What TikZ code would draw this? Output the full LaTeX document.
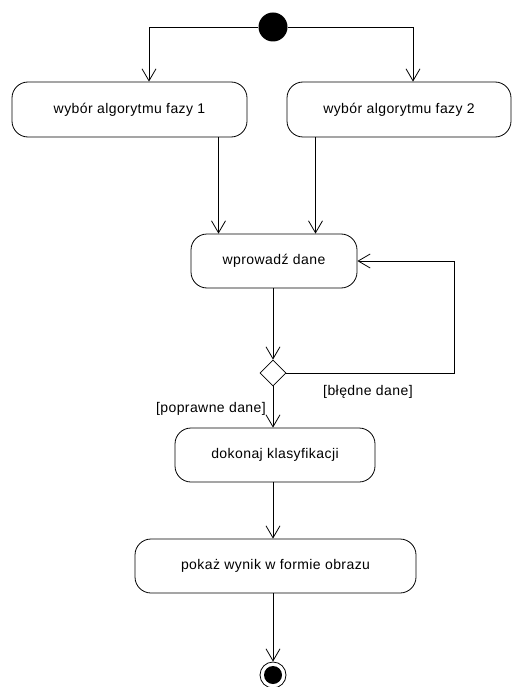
\documentclass[tikz,border=0pt]{standalone}
\usepackage{fontspec}
\setmainfont{Liberation Sans}[LetterSpace=3]
\usetikzlibrary{arrows.meta,shapes.geometric}
\begin{document}
\begin{tikzpicture}[x=1pt,y=-1pt,
  act/.style={draw,line width=0.8pt,rounded corners=16pt,minimum height=55pt,inner sep=0pt,font=\fontsize{14}{16}\selectfont},
  arr/.style={draw,line width=0.8pt,-{Straight Barb[length=12pt,width=14pt,line width=0.8pt]}},
  lbl/.style={font=\fontsize{14}{16}\selectfont,inner sep=0pt}]
\useasboundingbox[fill=white] (0,0) rectangle (513,687);
\node[circle,fill=black,minimum size=29pt,inner sep=0pt] (start) at (273,27) {};
\node[act,minimum width=235pt] (b1) at (129.5,109.5) {wybór algorytmu fazy 1};
\node[act,minimum width=224pt] (b2) at (399,109.5) {wybór algorytmu fazy 2};
\node[act,minimum width=166pt,minimum height=54pt] (b3) at (274,261) {wprowadź dane};
\node[diamond,draw,line width=0.8pt,minimum width=26pt,minimum height=26pt,inner sep=0pt] (d) at (273,373) {};
\node[act,minimum width=200pt,minimum height=54pt] (b4) at (275,455) {dokonaj klasyfikacji};
\node[act,minimum width=281pt,minimum height=54pt] (b5) at (275.5,566) {pokaż wynik w formie obrazu};
\node[circle,draw,line width=0.8pt,minimum size=26pt,inner sep=0pt] (end) at (273,675) {};
\fill (end.center) circle[radius=9pt];
\coordinate (c1) at (149,0);
\coordinate (c2) at (413,0);
\coordinate (c3) at (218.5,0);
\coordinate (c4) at (315.5,0);
\coordinate (c5) at (454,0);
\draw[arr] (start.west) -| (b1.north -| c1);
\draw[arr] (start.east) -| (b2.north -| c2);
\draw[arr] (b1.south -| c3) -- (b3.north -| c3);
\draw[arr] (b2.south -| c4) -- (b3.north -| c4);
\draw[arr] (b3.south -| d) -- (d.north);
\draw[arr] (d.east) -| (c5 |- b3.east) -- (b3.east);
\draw[arr] (d.south) -- (b4.north -| d);
\draw[arr] (b4.south -| d) -- (b5.north -| d);
\draw[arr] (b5.south -| end) -- (end.north);
\node[lbl,anchor=west] (l1) at (323,392) {[błędne dane]};
\node[lbl,anchor=east] (l2) at (266,409) {[poprawne dane]};
\end{tikzpicture}
\end{document}
